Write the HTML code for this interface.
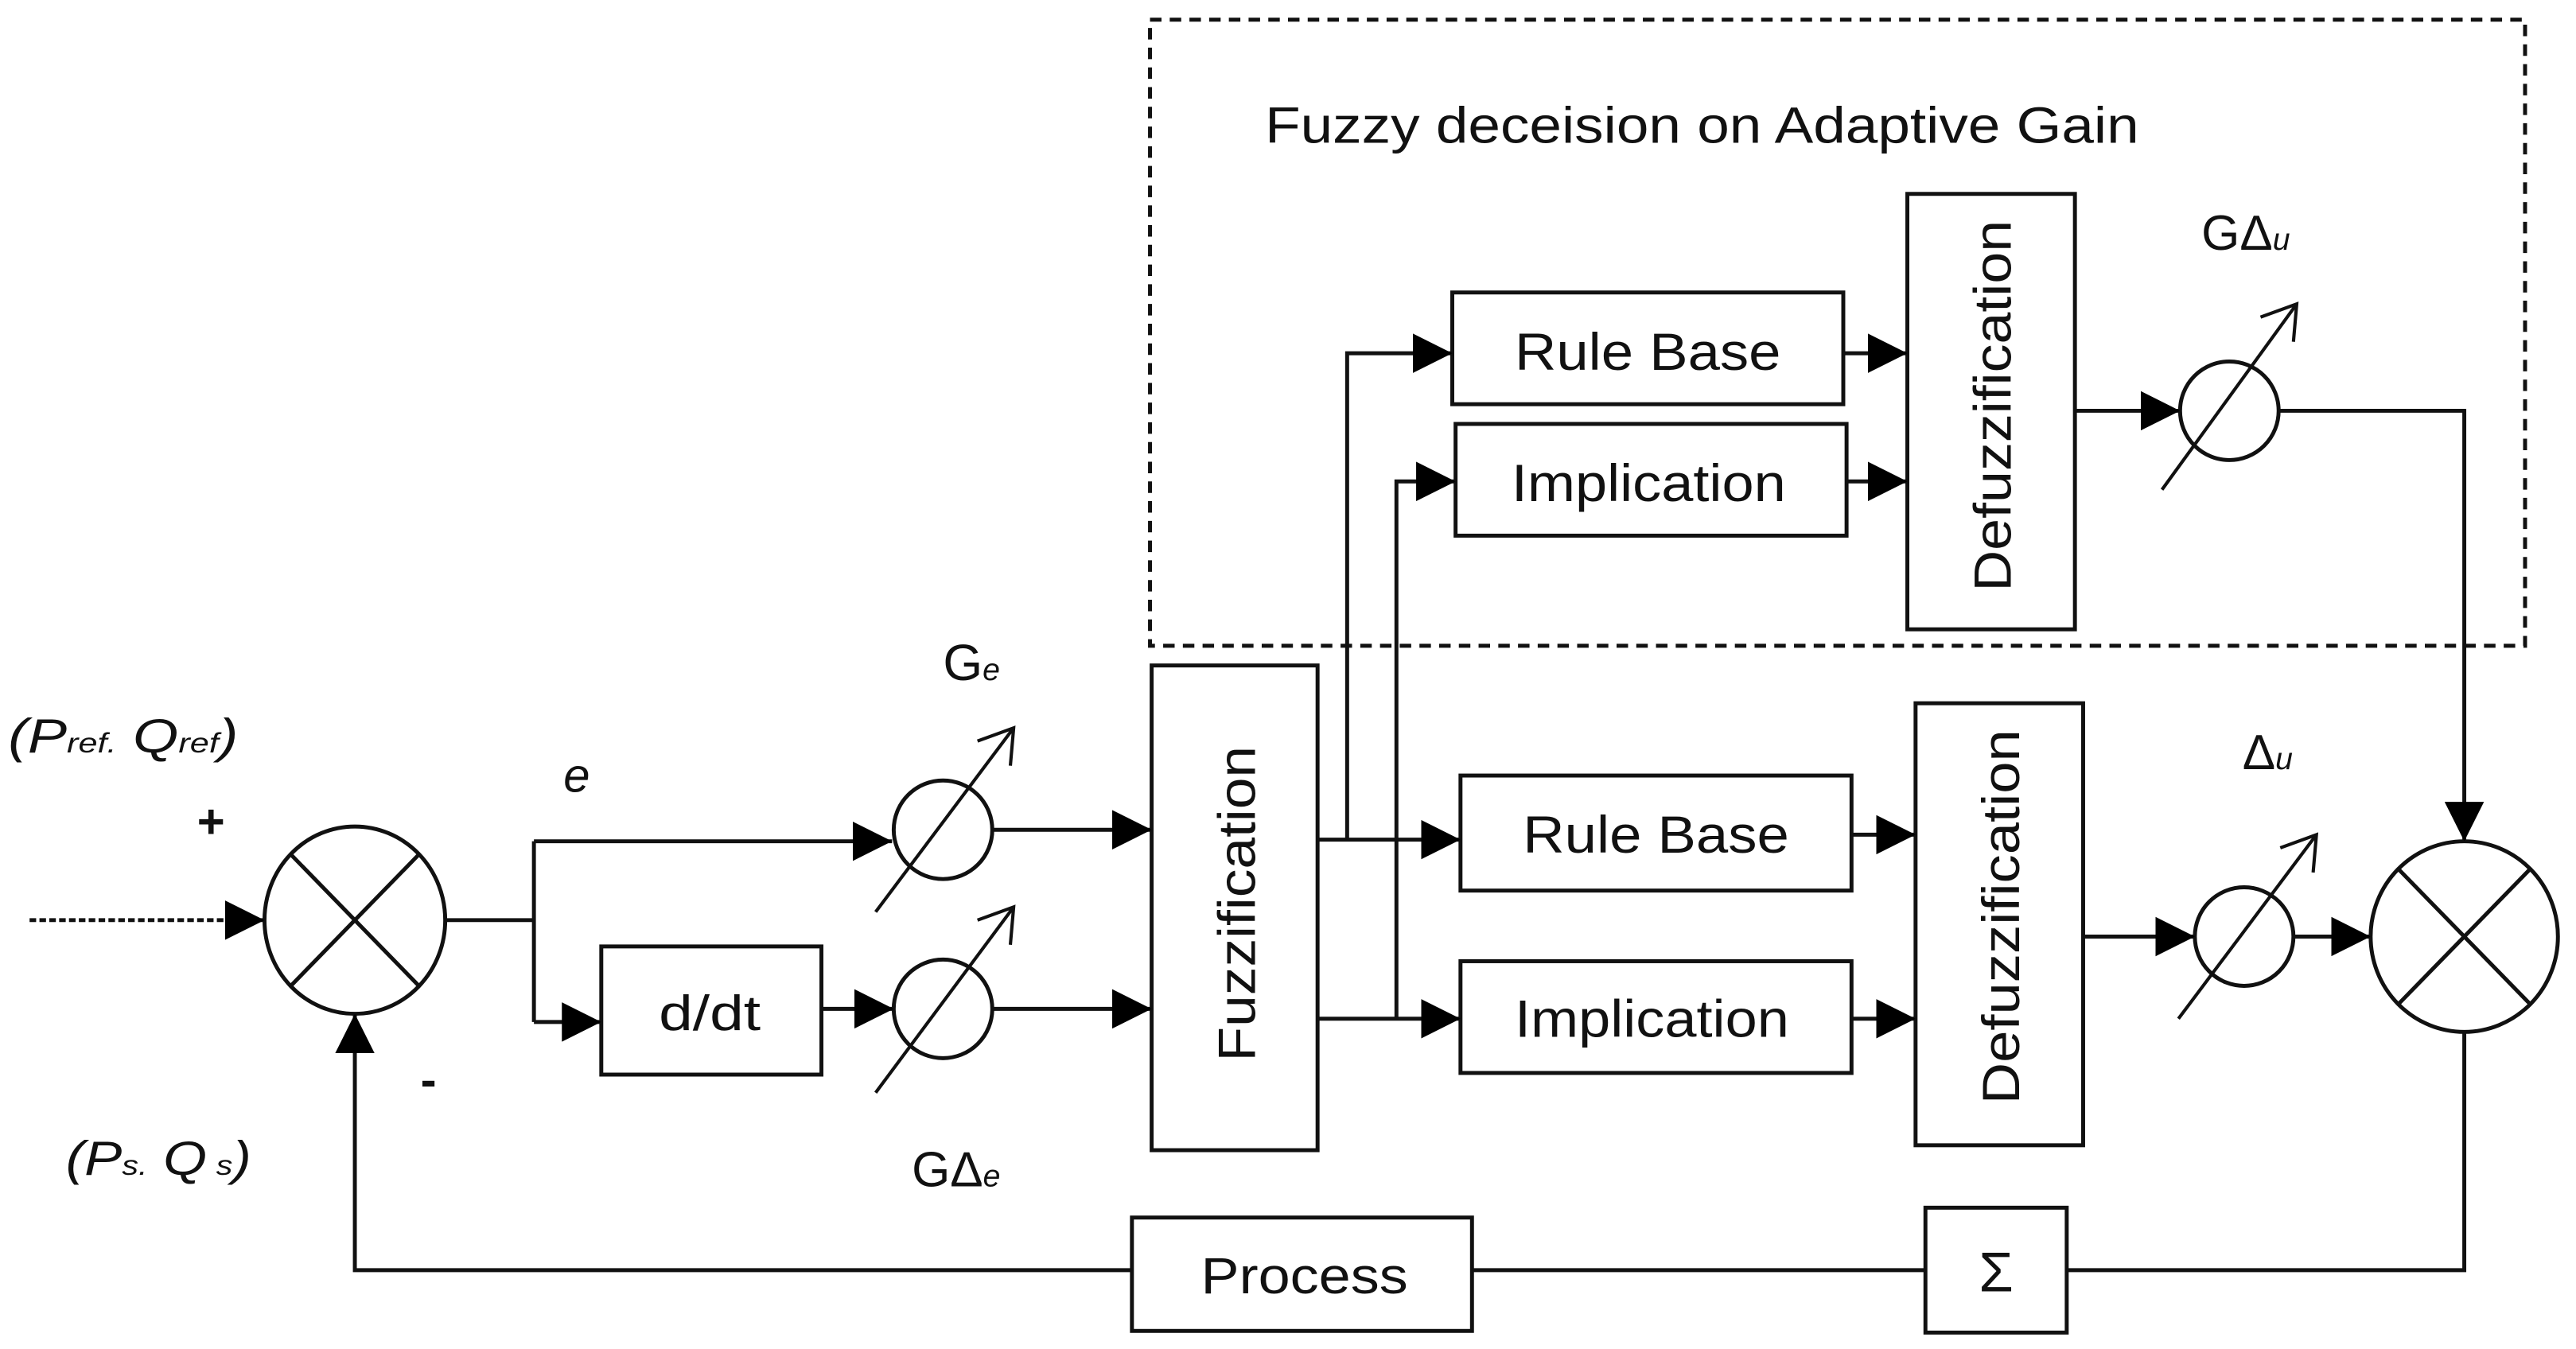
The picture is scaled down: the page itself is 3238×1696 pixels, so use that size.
<!DOCTYPE html>
<html><head><meta charset="utf-8"><style>
html,body{margin:0;padding:0;background:#fff}
svg{display:block}
text{font-family:"Liberation Sans",sans-serif;fill:#111}
</style></head><body>
<svg width="3238" height="1696" viewBox="0 0 1568 821" preserveAspectRatio="none" xmlns="http://www.w3.org/2000/svg">
<defs>
<marker id="a" viewBox="0 0 10 10" refX="10" refY="5" markerWidth="24" markerHeight="24" markerUnits="userSpaceOnUse" orient="auto"><path d="M0,0 L10,5 L0,10 z" fill="#000"/></marker>
</defs>
<g fill="none" stroke="#111" stroke-width="2.4">
<rect x="700" y="12" width="837" height="381" stroke-dasharray="7,5"/>
<rect x="884" y="178" width="238" height="68"/>
<rect x="886" y="258" width="238" height="68"/>
<rect x="1161" y="118" width="102" height="265"/>
<rect x="701" y="405" width="101" height="295"/>
<rect x="889" y="472" width="238" height="70"/>
<rect x="889" y="585" width="238" height="68"/>
<rect x="1166" y="428" width="102" height="269"/>
<rect x="366" y="576" width="134" height="78"/>
<rect x="689" y="741" width="207" height="69"/>
<rect x="1172" y="735" width="86" height="76"/>
<ellipse cx="216" cy="560" rx="55" ry="57"/>
<line x1="177" y1="520" x2="255" y2="600"/><line x1="255" y1="520" x2="177" y2="600"/>
<ellipse cx="1500" cy="570" rx="57" ry="58"/>
<line x1="1460" y1="529" x2="1540" y2="611"/><line x1="1540" y1="529" x2="1460" y2="611"/>
<circle cx="1357" cy="250" r="30"/>
<circle cx="1366" cy="570" r="30"/>
<circle cx="574" cy="505" r="30"/>
<circle cx="574" cy="614" r="30"/>
<g stroke-width="2">
<line x1="1316" y1="298" x2="1398" y2="185"/><polyline points="1376,193 1398,185 1396,208"/>
<line x1="1326" y1="620" x2="1410" y2="508"/><polyline points="1388,516 1410,508 1408,531"/>
<line x1="533" y1="555" x2="617" y2="443"/><polyline points="595,451 617,443 615,466"/>
<line x1="533" y1="665" x2="617" y2="552"/><polyline points="595,560 617,552 615,575"/>
</g>
<line x1="18" y1="560" x2="161" y2="560" stroke-dasharray="4,2" marker-end="url(#a)"/>
<line x1="271" y1="560" x2="325" y2="560"/>
<polyline points="325,512 325,622"/>
<line x1="325" y1="512" x2="543" y2="512" marker-end="url(#a)"/>
<line x1="325" y1="622" x2="366" y2="622" marker-end="url(#a)"/>
<line x1="500" y1="614" x2="544" y2="614" marker-end="url(#a)"/>
<line x1="604" y1="505" x2="701" y2="505" marker-end="url(#a)"/>
<line x1="604" y1="614" x2="701" y2="614" marker-end="url(#a)"/>
<line x1="802" y1="511" x2="889" y2="511" marker-end="url(#a)"/>
<polyline points="820,511 820,215 884,215" marker-end="url(#a)"/>
<line x1="802" y1="620" x2="889" y2="620" marker-end="url(#a)"/>
<polyline points="850,620 850,293 886,293" marker-end="url(#a)"/>
<line x1="1122" y1="215" x2="1161" y2="215" marker-end="url(#a)"/>
<line x1="1124" y1="293" x2="1161" y2="293" marker-end="url(#a)"/>
<line x1="1127" y1="508" x2="1166" y2="508" marker-end="url(#a)"/>
<line x1="1127" y1="620" x2="1166" y2="620" marker-end="url(#a)"/>
<line x1="1263" y1="250" x2="1327" y2="250" marker-end="url(#a)"/>
<polyline points="1387,250 1500,250 1500,512" marker-end="url(#a)"/>
<line x1="1268" y1="570" x2="1336" y2="570" marker-end="url(#a)"/>
<line x1="1396" y1="570" x2="1443" y2="570" marker-end="url(#a)"/>
<polyline points="1500,628 1500,773 1258,773"/>
<line x1="1172" y1="773" x2="896" y2="773"/>
<polyline points="689,773 216,773 216,617" marker-end="url(#a)"/>
</g>
<g font-size="32">
<text x="770" y="87" font-size="31" textLength="532" lengthAdjust="spacingAndGlyphs">Fuzzy deceision on Adaptive Gain</text>
<text x="922" y="225" textLength="162" lengthAdjust="spacingAndGlyphs">Rule Base</text>
<text x="920" y="305" textLength="167" lengthAdjust="spacingAndGlyphs">Implication</text>
<text x="927" y="519" textLength="162" lengthAdjust="spacingAndGlyphs">Rule Base</text>
<text x="922" y="631" textLength="167" lengthAdjust="spacingAndGlyphs">Implication</text>
<text x="401" y="627" font-size="30" textLength="62" lengthAdjust="spacingAndGlyphs">d/dt</text>
<text x="731" y="787" font-size="31" textLength="126" lengthAdjust="spacingAndGlyphs">Process</text>
<text x="1215" y="786" text-anchor="middle" font-size="34">Σ</text>
<text transform="translate(1224,360) rotate(-90)" font-size="32" textLength="226" lengthAdjust="spacingAndGlyphs">Defuzzification</text>
<text transform="translate(1229,672) rotate(-90)" font-size="32" textLength="228" lengthAdjust="spacingAndGlyphs">Defuzzification</text>
<text transform="translate(764,646) rotate(-90)" font-size="32" textLength="192" lengthAdjust="spacingAndGlyphs">Fuzzification</text>
<text x="1340" y="152" font-size="30">GΔ<tspan font-size="19" font-style="italic">u</tspan></text>
<text x="1365" y="468" font-size="30">Δ<tspan font-size="19" font-style="italic">u</tspan></text>
<text x="574" y="414" font-size="31">G<tspan font-size="19" font-style="italic">e</tspan></text>
<text x="555" y="722" font-size="30">GΔ<tspan font-size="19" font-style="italic">e</tspan></text>
<text x="343" y="482" font-size="29" font-style="italic">e</text>
<text x="120" y="510" font-size="29" font-weight="bold">+</text>
<text x="256" y="667" font-size="29" font-weight="bold">-</text>
<text x="5" y="458" font-size="29" font-style="italic" textLength="140" lengthAdjust="spacingAndGlyphs">(P<tspan font-size="17">ref.</tspan> Q<tspan font-size="17">ref</tspan>)</text>
<text x="40" y="715" font-size="29" font-style="italic" textLength="113" lengthAdjust="spacingAndGlyphs">(P<tspan font-size="17">s.</tspan> Q<tspan font-size="17"> s</tspan>)</text>
</g>
</svg>
</body></html>
